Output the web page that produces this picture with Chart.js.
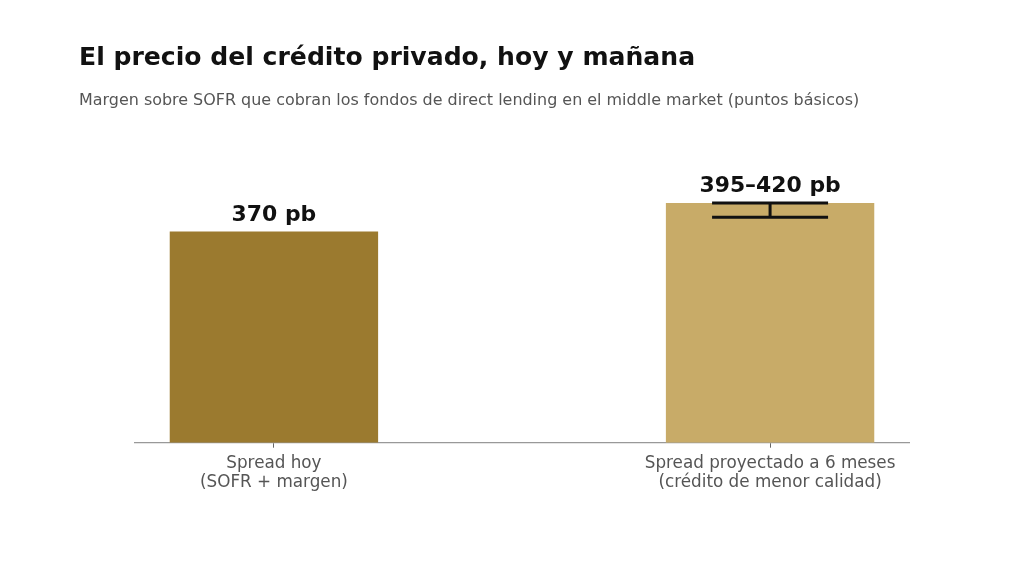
<!DOCTYPE html>
<html>
<head>
<meta charset="utf-8">
<script src="https://cdn.jsdelivr.net/npm/chart.js@4/dist/chart.umd.min.js"></script>
<style>
  html, body { margin: 0; padding: 0; background: #fff; }
  #wrap { position: relative; width: 1024px; height: 576px; overflow: hidden; }
  #title { position: absolute; left: 79px; top: 42px; font-family: "DejaVu Sans"; font-weight: bold; font-size: 25.1px; color: #111; white-space: nowrap; line-height: 1.2; }
  #subtitle { position: absolute; left: 79px; top: 90px; font-family: "DejaVu Sans"; font-size: 15.95px; color: #555; white-space: nowrap; line-height: 1.2; }
  canvas { position: absolute; left: 0; top: 0; }
</style>
</head>
<body>
<div id="wrap">
  <canvas id="c" width="1024" height="576"></canvas>
  <div id="title">El precio del crédito privado, hoy y mañana</div>
  <div id="subtitle">Margen sobre SOFR que cobran los fondos de direct lending en el middle market (puntos básicos)</div>
</div>
<script>
const categories = [["Spread hoy", "(SOFR + margen)"], ["Spread proyectado a 6 meses", "(crédito de menor calidad)"]];
const barValues = [370, 420];
const rangeLow = [null, 395];
const rangeHigh = [null, 420];
const valueLabels = ["370 pb", "395–420 pb"];
const barColors = ["#9B7A2F", "#C8AB68"];

const overlay = {
  id: 'overlay',
  afterDatasetsDraw(chart) {
    const ctx = chart.ctx;
    const xs = chart.scales.x, ys = chart.scales.y;
    ctx.save();
    for (let i = 0; i < barValues.length; i++) {
      const cx = xs.getPixelForValue(i);
      if (rangeLow[i] != null) {
        const yTop = ys.getPixelForValue(rangeHigh[i]);
        const yBot = ys.getPixelForValue(rangeLow[i]);
        ctx.strokeStyle = '#111';
        ctx.lineWidth = 3;
        ctx.beginPath();
        ctx.moveTo(cx, yTop); ctx.lineTo(cx, yBot);
        ctx.moveTo(cx - 58, yTop); ctx.lineTo(cx + 58, yTop);
        ctx.moveTo(cx - 58, yBot); ctx.lineTo(cx + 58, yBot);
        ctx.stroke();
      }
      const top = ys.getPixelForValue(Math.max(barValues[i], rangeHigh[i] || 0));
      ctx.fillStyle = '#111';
      ctx.font = 'bold 21.9px "DejaVu Sans"';
      ctx.textAlign = 'center';
      ctx.textBaseline = 'alphabetic';
      ctx.fillText(valueLabels[i], cx, top - 11);
    }
    ctx.restore();
  }
};

new Chart(document.getElementById('c'), {
  type: 'bar',
  data: {
    datasets: [{
      data: barValues.map((v, i) => ({ x: i, y: v })),
      backgroundColor: barColors,
      barPercentage: 0.42,
      categoryPercentage: 1.0
    }]
  },
  options: {
    responsive: false,
    animation: false,
    layout: { padding: { left: 135, right: 115, top: 167, bottom: 78 } },
    plugins: { legend: { display: false }, tooltip: { enabled: false } },
    scales: {
      x: {
        type: 'linear',
        offset: false,
        min: -0.28, max: 1.28,
        afterBuildTicks(scale) { scale.ticks = categories.map((c, i) => ({ value: i })); },
        ticks: {
          callback: (v) => categories[v],
          color: '#555',
          font: { family: 'DejaVu Sans', size: 16.8, lineHeight: 1.14 },
          padding: 6,
          maxRotation: 0,
          autoSkip: false
        },
        grid: { display: true, offset: false, drawOnChartArea: false, drawTicks: true, tickLength: 5, color: '#666', lineWidth: 1 },
        border: { display: true, color: '#999', width: 1.2 }
      },
      y: {
        display: false,
        min: 0, max: 483
      }
    }
  },
  plugins: [overlay]
});
</script>
</body>
</html>
